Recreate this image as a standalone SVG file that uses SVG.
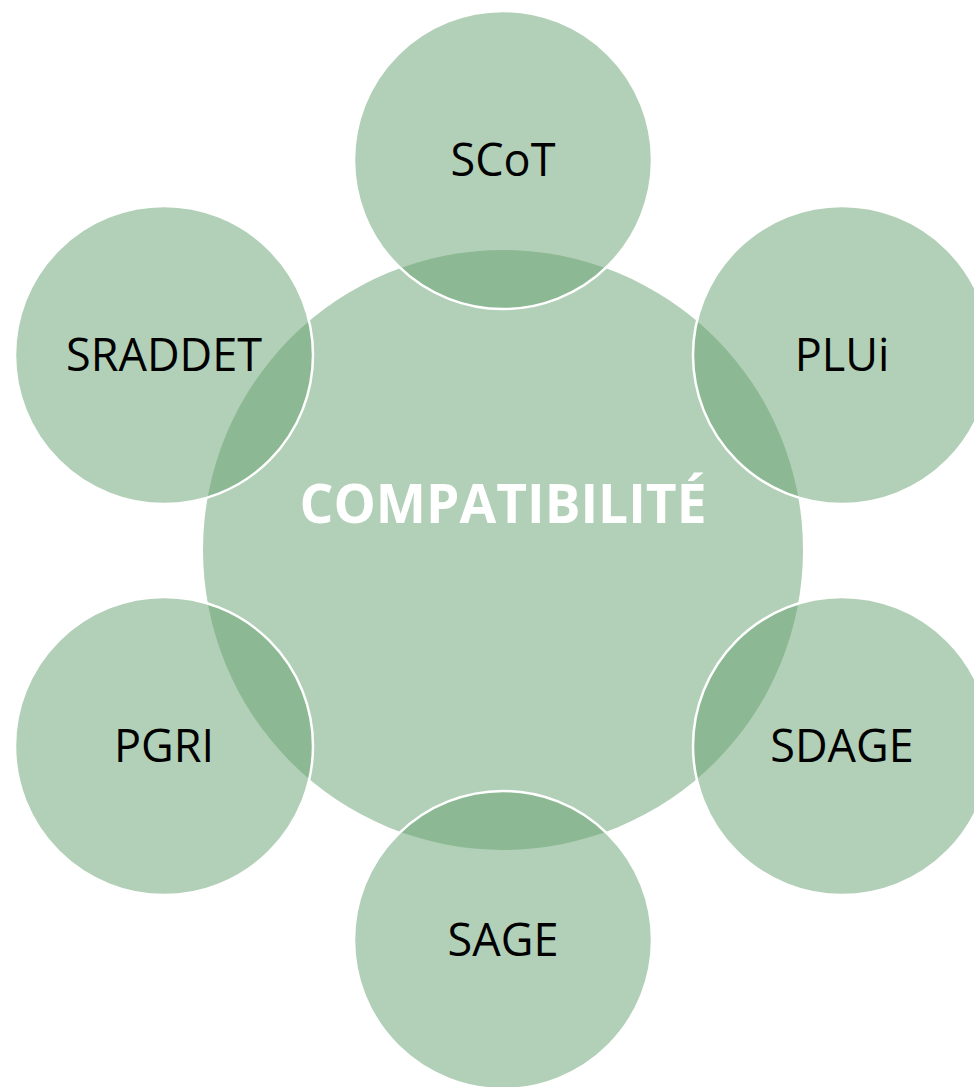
<svg xmlns="http://www.w3.org/2000/svg" width="974" height="1087" viewBox="0 0 974 1087">
<style>
.c{fill:rgb(101,161,111);fill-opacity:0.5}
.o{fill:rgb(101,161,111);fill-opacity:0.5;stroke:#fff;stroke-width:2.5}
.t{font-family:"Open Sans","Noto Sans",sans-serif;font-size:45px;fill:#000;text-anchor:middle}
.m{font-family:"Open Sans","Noto Sans",sans-serif;font-size:54px;font-weight:bold;fill:#fff;text-anchor:middle}
</style>
<rect width="974" height="1087" fill="#fff"/>
<g id="center"><circle class="c" cx="503" cy="550" r="300"/></g>
<g id="connectors"></g>
<g id="scot"><circle class="o" cx="503" cy="160" r="149"/><text class="t" x="503" y="176">SCoT</text></g>
<g id="plui"><circle class="o" cx="842" cy="355" r="149"/><text class="t" x="842" y="371">PLUi</text></g>
<g id="sdage"><circle class="o" cx="842" cy="746" r="149"/><text class="t" x="842" y="762">SDAGE</text></g>
<g id="sage"><circle class="o" cx="503" cy="940" r="149"/><text class="t" x="503" y="956">SAGE</text></g>
<g id="pgri"><circle class="o" cx="164" cy="746" r="149"/><text class="t" x="164" y="762">PGRI</text></g>
<g id="sraddet"><circle class="o" cx="164" cy="355" r="149"/><text class="t" x="164" y="371">SRADDET</text></g>
<g id="label"><text class="m" x="503" y="523" textLength="407" lengthAdjust="spacingAndGlyphs">COMPATIBILITÉ</text></g>
</svg>
